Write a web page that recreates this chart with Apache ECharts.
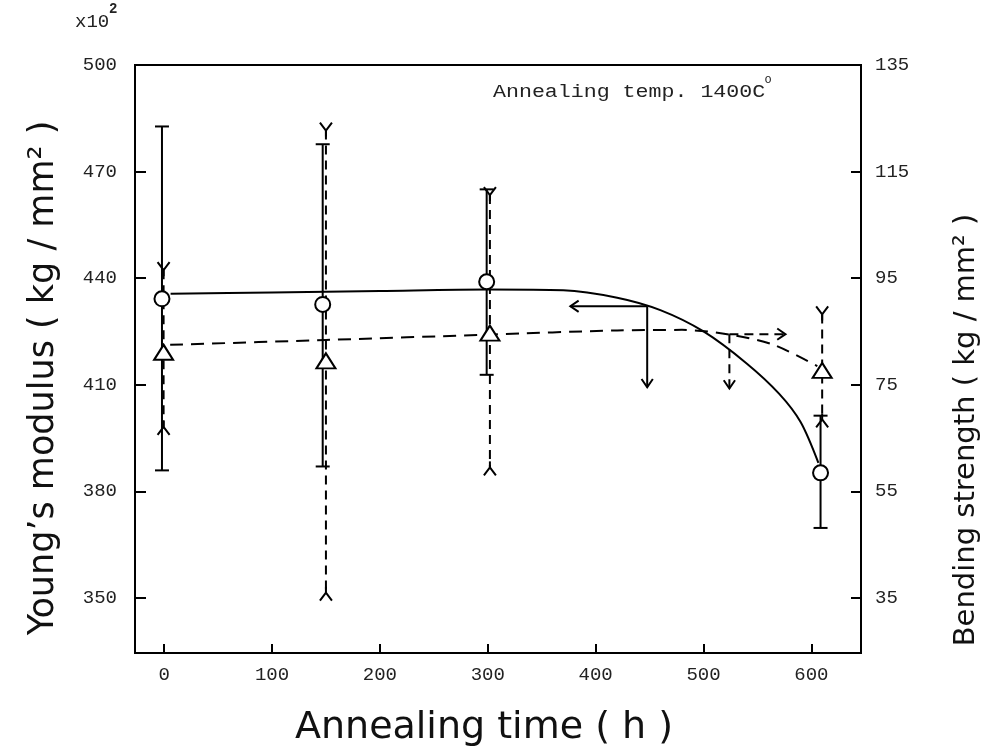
<!DOCTYPE html>
<html>
<head>
<meta charset="utf-8">
<script src="https://cdn.jsdelivr.net/npm/echarts@6/dist/echarts.min.js"></script>
<style>
  html, body { margin: 0; padding: 0; background: #fff; }
  #chart { width: 995px; height: 753px; }
</style>
</head>
<body>
<div id="chart"></div>
<script>
// ---------------- data ----------------
// Young's modulus (x10^2 kg/mm^2), left axis, open circles, solid error bars
const circleTime   = [-2, 147, 299, 608.5];
const youngModulus = [434.2, 432.6, 439.0, 385.2];
const youngUpper   = [482.7, 477.7, 465.0, 401.3];
const youngLower   = [385.9, 387.0, 412.8, 369.7];

// Bending strength (kg/mm^2), right axis, open triangles, dashed error bars
const triangleTime  = [-0.5, 150, 302, 610];
const bendStrength  = [81.1, 79.5, 84.7, 77.7];
const bendUpper     = [96.5, 122.7, 110.6, 88.2];
const bendLower     = [67.1, 36.0, 59.5, 68.5];

// fitted curves
const youngCurveTime  = [6, 100, 200, 300, 370, 420, 460, 500, 540, 570, 590, 606.5];
const youngCurveValue = [435.6, 436.0, 436.4, 436.8, 436.6, 434.5, 431.0, 425.0, 416.0, 407.5, 399.5, 388.0];
const bendCurveTime   = [5.6, 150, 300, 420, 480, 525, 565, 605.5];
const bendCurveValue  = [82.5, 83.4, 84.4, 85.2, 85.3, 84.4, 82.5, 78.5];

// axis-pointing arrows: [fromTime, fromValue, toTime, toValue]
const youngArrows = [[447.8, 432.1, 376.6, 432.1], [447.8, 432.1, 447.8, 409.3]];
const bendArrows  = [[524, 84.5, 576, 84.5], [524, 84.5, 524, 74.3]];

// tick labels
const timeTicks  = [0, 100, 200, 300, 400, 500, 600];
const youngTicks = [350, 380, 410, 440, 470, 500];
const bendTicks  = [35, 55, 75, 95, 115, 135];

// ---------------- chart ----------------
const MONO = '"Liberation Mono", "DejaVu Sans Mono", monospace';
const SANS = '"DejaVu Sans", "Noto Sans", sans-serif';

function pairs(xs, ys) { return xs.map((x, i) => [x, ys[i]]); }
function triples(xs, lo, hi) { return xs.map((x, i) => [x, lo[i], hi[i]]); }

function errorBarRenderer(dashed) {
  return function (params, api) {
    const x = api.value(0), lo = api.value(1), hi = api.value(2);
    const pHi = api.coord([x, hi]);
    const pLo = api.coord([x, lo]);
    const st = { stroke: '#000', lineWidth: 2, fill: null };
    const children = [{
      type: 'line',
      shape: { x1: pHi[0], y1: pHi[1], x2: pLo[0], y2: pLo[1] },
      style: Object.assign({}, st, dashed ? { lineDash: [9, 6] } : {})
    }];
    if (!dashed) {
      children.push({ type: 'line', shape: { x1: pHi[0] - 7, y1: pHi[1], x2: pHi[0] + 7, y2: pHi[1] }, style: st });
      children.push({ type: 'line', shape: { x1: pLo[0] - 7, y1: pLo[1], x2: pLo[0] + 7, y2: pLo[1] }, style: st });
    } else {
      children.push({ type: 'polyline', shape: { points: [[pHi[0] - 6, pHi[1] - 8], [pHi[0], pHi[1]], [pHi[0] + 6, pHi[1] - 8]] }, style: st });
      children.push({ type: 'line', shape: { x1: pHi[0], y1: pHi[1], x2: pHi[0], y2: pHi[1] + 6 }, style: st });
      children.push({ type: 'polyline', shape: { points: [[pLo[0] - 6, pLo[1] + 8], [pLo[0], pLo[1]], [pLo[0] + 6, pLo[1] + 8]] }, style: st });
      children.push({ type: 'line', shape: { x1: pLo[0], y1: pLo[1], x2: pLo[0], y2: pLo[1] - 6 }, style: st });
    }
    return { type: 'group', children: children };
  };
}

function arrowRenderer(dashed) {
  return function (params, api) {
    const a = api.coord([api.value(0), api.value(1)]);
    const b = api.coord([api.value(2), api.value(3)]);
    const ang = Math.atan2(b[1] - a[1], b[0] - a[0]);
    const L = 10, w = 0.6;
    const h1 = [b[0] - L * Math.cos(ang - w), b[1] - L * Math.sin(ang - w)];
    const h2 = [b[0] - L * Math.cos(ang + w), b[1] - L * Math.sin(ang + w)];
    const st = { stroke: '#000', lineWidth: 2, fill: null };
    return {
      type: 'group',
      children: [
        { type: 'line', shape: { x1: a[0], y1: a[1], x2: b[0], y2: b[1] }, style: Object.assign({}, st, dashed ? { lineDash: [9, 6] } : {}) },
        { type: 'polyline', shape: { points: [h1, b, h2] }, style: st }
      ]
    };
  };
}

const chart = echarts.init(document.getElementById('chart'), null, { renderer: 'canvas' });

const axisLineStyle = { show: true, onZero: false, lineStyle: { color: '#000', width: 2 } };

chart.setOption({
  backgroundColor: '#fff',
  animation: false,
  grid: { left: 135, right: 134, top: 65, bottom: 100, show: true, borderColor: '#000', borderWidth: 2, backgroundColor: 'transparent' },
  xAxis: {
    type: 'value', min: -27, max: 646,
    axisLine: axisLineStyle,
    axisTick: { show: true, inside: true, length: 9, customValues: timeTicks, lineStyle: { color: '#000', width: 2 } },
    axisLabel: { customValues: timeTicks, margin: 12, fontFamily: MONO, fontSize: 19, color: '#222' },
    splitLine: { show: false }
  },
  yAxis: [
    {
      type: 'value', position: 'left', min: 334.5, max: 500,
      axisLine: axisLineStyle,
      axisTick: { show: true, inside: true, length: 11, customValues: [350, 380, 410, 440, 470], lineStyle: { color: '#000', width: 2 } },
      axisLabel: { customValues: youngTicks, margin: 18, fontFamily: MONO, fontSize: 19, color: '#222' },
      splitLine: { show: false }
    },
    {
      type: 'value', position: 'right', min: 24.67, max: 135,
      axisLine: axisLineStyle,
      axisTick: { show: true, inside: true, length: 10, customValues: [35, 55, 75, 95, 115], lineStyle: { color: '#000', width: 2 } },
      axisLabel: { customValues: bendTicks, margin: 14, fontFamily: MONO, fontSize: 19, color: '#222' },
      splitLine: { show: false }
    }
  ],
  series: [
    {
      name: 'young-curve', type: 'line', yAxisIndex: 0, smooth: 0.3, showSymbol: false,
      data: pairs(youngCurveTime, youngCurveValue),
      lineStyle: { color: '#000', width: 2 }, z: 2
    },
    {
      name: 'bend-curve', type: 'line', yAxisIndex: 1, smooth: 0.3, showSymbol: false,
      data: pairs(bendCurveTime, bendCurveValue),
      lineStyle: { color: '#000', width: 2, type: [13, 8] }, z: 2
    },
    {
      name: 'young-err', type: 'custom', yAxisIndex: 0,
      renderItem: errorBarRenderer(false),
      data: triples(circleTime, youngLower, youngUpper), z: 3
    },
    {
      name: 'bend-err', type: 'custom', yAxisIndex: 1,
      renderItem: errorBarRenderer(true),
      data: triples(triangleTime, bendLower, bendUpper), z: 3
    },
    {
      name: 'young-arrows', type: 'custom', yAxisIndex: 0,
      renderItem: arrowRenderer(false), data: youngArrows, z: 3
    },
    {
      name: 'bend-arrows', type: 'custom', yAxisIndex: 1,
      renderItem: arrowRenderer(true), data: bendArrows, z: 3
    },
    {
      name: "Young's modulus", type: 'scatter', yAxisIndex: 0,
      symbol: 'circle', symbolSize: 15,
      itemStyle: { color: '#fff', borderColor: '#000', borderWidth: 2, opacity: 1 },
      data: pairs(circleTime, youngModulus), z: 5
    },
    {
      name: 'Bending strength', type: 'scatter', yAxisIndex: 1,
      symbol: 'triangle', symbolSize: [19, 15],
      itemStyle: { color: '#fff', borderColor: '#000', borderWidth: 2, opacity: 1 },
      data: pairs(triangleTime, bendStrength), z: 5
    }
  ],
  graphic: [
    { type: 'text', x: 75, y: 22, style: { text: 'x10', font: '19px ' + MONO, fill: '#222', verticalAlign: 'middle' } },
    { type: 'text', x: 109, y: 9, style: { text: '2', font: 'bold 14px ' + MONO, fill: '#222', verticalAlign: 'middle' } },
    { type: 'text', x: 493, y: 92, scaleX: 1.2, style: { text: 'Annealing temp. 1400C', font: '18px ' + MONO, fill: '#222', verticalAlign: 'middle' } },
    { type: 'text', x: 768, y: 80, style: { text: 'o', font: '12px ' + MONO, fill: '#222', verticalAlign: 'middle', align: 'center' } },
    { type: 'text', x: 44, y: 378, rotation: Math.PI / 2, style: { text: 'Young\u2019s modulus ( kg / mm\u00B2 )', font: '35px ' + SANS, fill: '#111', align: 'center', verticalAlign: 'middle' } },
    { type: 'text', x: 966, y: 430, rotation: Math.PI / 2, style: { text: 'Bending strength ( kg / mm\u00B2 )', font: '29px ' + SANS, fill: '#111', align: 'center', verticalAlign: 'middle' } },
    { type: 'text', x: 484, y: 728, style: { text: 'Annealing time ( h )', font: '38px ' + SANS, fill: '#111', align: 'center', verticalAlign: 'middle' } }
  ]
});
</script>
</body>
</html>
